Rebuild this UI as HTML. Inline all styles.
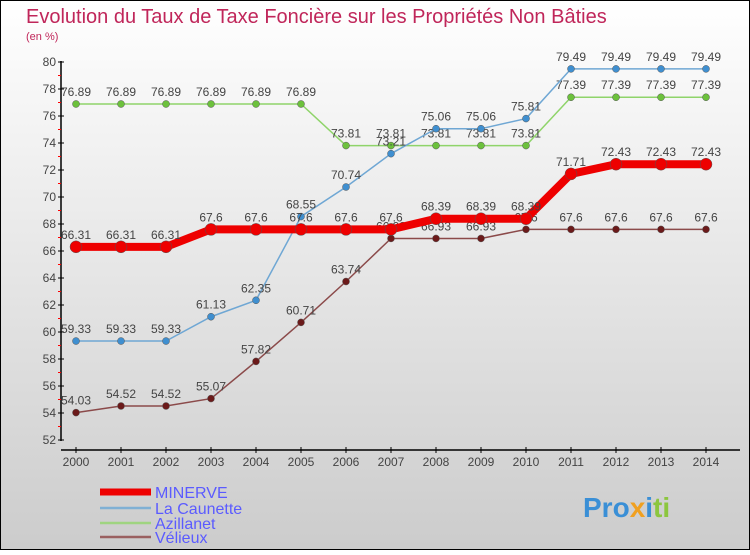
<!DOCTYPE html>
<html><head><meta charset="utf-8"><style>
body{margin:0;}
#wrap{width:750px;height:550px;position:relative;font-family:"Liberation Sans",sans-serif;}
</style></head><body>
<div id="wrap">
<svg id="svg" width="750" height="550" xmlns="http://www.w3.org/2000/svg">
<defs><linearGradient id="bg" x1="0" y1="0" x2="0" y2="1"><stop offset="0" stop-color="#ffffff"/><stop offset="1" stop-color="#cccccc"/></linearGradient></defs>
<rect x="0.5" y="0.5" width="749" height="549" fill="url(#bg)" stroke="#000"/>
<text x="26" y="23" font-size="20" fill="#c0265a" font-weight="300">Evolution du Taux de Taxe Foncière sur les Propriétés Non Bâties</text>
<text x="26" y="40" font-size="11" fill="#c0265a">(en %)</text>
<g id="axes"></g><g id="series"></g><g id="legend"></g>
<text x="583" y="517" font-size="28" font-weight="bold" fill="#3a8fd6">Pro<tspan fill="#f0a020">x</tspan><tspan fill="#3a8fd6">i</tspan><tspan fill="#8cc63f">ti</tspan></text>
</svg>
</div>
<script>
const years=[2000,2001,2002,2003,2004,2005,2006,2007,2008,2009,2010,2011,2012,2013,2014];
const yTicks=[52,54,56,58,60,62,64,66,68,70,72,74,76,78,80];
const minerve=[66.31,66.31,66.31,67.6,67.6,67.6,67.6,67.6,68.39,68.39,68.39,71.71,72.43,72.43,72.43];
const caunette=[59.33,59.33,59.33,61.13,62.35,68.55,70.74,73.21,75.06,75.06,75.81,79.49,79.49,79.49,79.49];
const azillanet=[76.89,76.89,76.89,76.89,76.89,76.89,73.81,73.81,73.81,73.81,73.81,77.39,77.39,77.39,77.39];
const velieux=[54.03,54.52,54.52,55.07,57.82,60.71,63.74,66.93,66.93,66.93,67.6,67.6,67.6,67.6,67.6];
const NS="http://www.w3.org/2000/svg";
const xS=i=>76+i*45;
const yS=v=>440-(v-52)*13.5;
function mk(t,a,p){const e=document.createElementNS(NS,t);for(const k in a)e.setAttribute(k,a[k]);p.appendChild(e);return e;}
const ax=document.getElementById('axes');
let l=mk('line',{x1:61,y1:61,x2:61,y2:441,stroke:'#000','stroke-width':1.5},ax);


l=mk('line',{x1:61,y1:450,x2:740,y2:450,stroke:'#000','stroke-width':1.5},ax);


yTicks.forEach((v,i)=>{
 mk('line',{x1:58,x2:64,y1:yS(v),y2:yS(v),stroke:'#000'},ax);
 if(i<yTicks.length-1)mk('line',{x1:58,x2:61,y1:yS(v+1),y2:yS(v+1),stroke:'#f00'},ax);
 const t=mk('text',{x:56,y:yS(v)+4,'font-size':12,'text-anchor':'end',fill:'#444'},ax);
 t.textContent=v;
 
 
});
years.forEach((y,i)=>{
 mk('line',{x1:xS(i),x2:xS(i),y1:447,y2:453,stroke:'#000'},ax);
 const t=mk('text',{x:xS(i),y:466,'font-size':12,'text-anchor':'middle',fill:'#444'},ax);
 t.textContent=y;
 
 
});
const sg=document.getElementById('series');
function series(data,color,w,r,name,dot){
 const g=mk('g',{},sg);
 
 
 mk('polyline',{points:data.map((v,i)=>xS(i)+','+yS(v)).join(' '),fill:'none',stroke:color,'stroke-width':w},g);
 data.forEach((v,i)=>{
  const c=mk('circle',{cx:xS(i),cy:yS(v),r:r,fill:dot,stroke:'#555','stroke-width':0.5},g);
  
  
  const t=mk('text',{x:xS(i),y:yS(v)-8,'font-size':12,'text-anchor':'middle',fill:'#444'},g);
  t.textContent=String(v);
  
  
 });
}
series(velieux,'#8b4a4a',1.5,3.5,'velieux-series','#6b1a1a');
series(azillanet,'#8fd46a',1.5,3.5,'azillanet-series','#6cc13c');
series(caunette,'#6fa7d4',1.5,3.5,'la-caunette-series','#3f8fd0');
series(minerve,'#ee0000',8,6,'minerve-series','#ee0000');
const lg=document.getElementById('legend');
[['MINERVE','#ee0000',7,492],['La Caunette','#7fb0d4',2.5,508],['Azillanet','#9fd480',2.5,523],['Vélieux','#9a6060',2.5,537]].forEach(e=>{
 const g=mk('g',{},lg);
 
 
 mk('line',{x1:100,x2:151,y1:e[3],y2:e[3],stroke:e[1],'stroke-width':e[2]},g);
 const t=mk('text',{x:155,y:e[3]+6,'font-size':16,fill:'#5b5bff'},g);
 t.textContent=e[0];
});
</script>
</body></html>
